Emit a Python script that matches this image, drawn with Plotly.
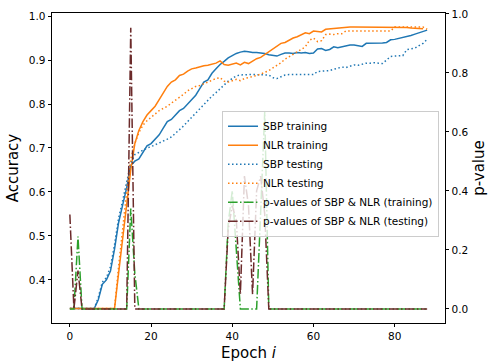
import plotly.graph_objects as go

epochs = list(range(89))

sbp_train = [0.335]*7 + [
    0.355, 0.39, 0.40, 0.42, 0.47, 0.53, 0.57, 0.61, 0.66, 0.67,
    0.675, 0.69, 0.705, 0.71, 0.72, 0.73, 0.745, 0.76, 0.765, 0.775,
    0.785, 0.79, 0.80, 0.81, 0.82, 0.835, 0.85, 0.855, 0.87, 0.88,
    0.89, 0.897, 0.905, 0.91, 0.915, 0.918, 0.92, 0.919, 0.917, 0.917,
    0.916, 0.915, 0.912, 0.91, 0.909, 0.913, 0.916, 0.916, 0.915, 0.917,
    0.916, 0.917, 0.915, 0.916, 0.925, 0.926, 0.922, 0.924, 0.93, 0.928,
    0.93, 0.932, 0.934, 0.934, 0.932, 0.931, 0.938, 0.938, 0.939, 0.939,
    0.939, 0.94, 0.946, 0.947, 0.949, 0.951, 0.953, 0.956, 0.959, 0.962,
    0.966, 0.968]

nlr_train = [0.335]*12 + [
    0.415, 0.49, 0.57, 0.65, 0.71, 0.74, 0.76, 0.775, 0.785, 0.795,
    0.81, 0.825, 0.84, 0.85, 0.855, 0.865, 0.868, 0.875, 0.88, 0.882,
    0.885, 0.887, 0.888, 0.89, 0.893, 0.898, 0.89, 0.888, 0.89, 0.893,
    0.889, 0.895, 0.892, 0.898, 0.903, 0.906, 0.912, 0.918, 0.926, 0.93,
    0.938, 0.94, 0.946, 0.95, 0.953, 0.958, 0.962, 0.96, 0.966, 0.965,
    0.964, 0.97, 0.971, 0.972, 0.973, 0.974, 0.975, 0.975, 0.975, 0.975,
    0.975, 0.975, 0.975, 0.975, 0.975, 0.975, 0.975, 0.975, 0.975, 0.975,
    0.975, 0.974, 0.973, 0.972, 0.972, 0.971]

sbp_test = [0.335]*7 + [
    0.36, 0.395, 0.405, 0.43, 0.48, 0.54, 0.58, 0.62, 0.665, 0.685,
    0.69, 0.695, 0.70, 0.703, 0.707, 0.711, 0.716, 0.72, 0.725, 0.733,
    0.742, 0.75, 0.76, 0.77, 0.78, 0.79, 0.80, 0.808, 0.818, 0.826,
    0.835, 0.845, 0.852, 0.858, 0.864, 0.866, 0.867, 0.867, 0.867, 0.867,
    0.867, 0.867, 0.866, 0.86, 0.858, 0.862, 0.866, 0.867, 0.867, 0.867,
    0.867, 0.867, 0.867, 0.867, 0.874, 0.875, 0.875, 0.876, 0.879, 0.881,
    0.884, 0.883, 0.886, 0.889, 0.888, 0.891, 0.893, 0.893, 0.894, 0.893,
    0.892, 0.90, 0.908, 0.909, 0.909, 0.91, 0.924, 0.925, 0.927, 0.933,
    0.938, 0.947]

nlr_test = [0.335]*12 + [
    0.43, 0.52, 0.60, 0.675, 0.71, 0.735, 0.752, 0.762, 0.77, 0.778,
    0.785, 0.79, 0.795, 0.802, 0.808, 0.816, 0.822, 0.83, 0.835, 0.84,
    0.842, 0.846, 0.85, 0.853, 0.858, 0.86, 0.852, 0.85, 0.853, 0.856,
    0.853, 0.858, 0.86, 0.862, 0.865, 0.868, 0.872, 0.876, 0.882, 0.888,
    0.894, 0.902, 0.908, 0.914, 0.92, 0.926, 0.93, 0.945, 0.95, 0.942,
    0.944, 0.958, 0.959, 0.958, 0.96, 0.96, 0.966, 0.966, 0.966, 0.966,
    0.966, 0.966, 0.966, 0.966, 0.966, 0.966, 0.966, 0.966, 0.975, 0.975,
    0.975, 0.975, 0.975, 0.975, 0.975, 0.975, 0.97]

p_train = [0.0, 0.0, 0.245, 0.0] + [0.0]*11 + [0.34, 0.12] + [0.0]*22 + [
    0.29, 0.40, 0.20, 0.0, 0.0, 0.0, 0.0, 0.0, 0.33, 0.67] + [0.0]*40

p_test = [0.32, 0.0, 0.13, 0.0] + [0.0]*11 + [0.953, 0.0] + [0.0]*22 + [
    0.27, 0.35, 0.30, 0.05, 0.45, 0.35, 0.05, 0.40, 0.45, 0.32] + [0.0]*40

FONT = "DejaVu Sans"
DOT = "1.5px,2.5px"
DASHDOT = "9.6px,2.4px,1.5px,2.4px"

fig = go.Figure()
series = [
    ("SBP training", sbp_train, "#1f77b4", "solid", "y"),
    ("NLR training", nlr_train, "#ff7f0e", "solid", "y"),
    ("SBP testing", sbp_test, "#1f77b4", DOT, "y"),
    ("NLR testing", nlr_test, "#ff7f0e", DOT, "y"),
    ("p-values of SBP & NLR (training)", p_train, "#2ca02c", DASHDOT, "y2"),
    ("p-values of SBP & NLR (testing)", p_test, "#6b2a2a", DASHDOT, "y2"),
]
for name, vals, col, dash, ax in series:
    fig.add_trace(go.Scatter(x=epochs, y=vals, name=name, mode="lines", yaxis=ax,
                             line=dict(color=col, width=1.5, dash=dash)))

axis_common = dict(showline=True, linecolor="black", linewidth=0.8, ticks="outside",
                   ticklen=3.5, tickwidth=0.8, tickcolor="black", showgrid=False,
                   zeroline=False, tickfont=dict(family=FONT, size=10.5, color="black"))

fig.update_layout(
    width=488, height=362,
    margin=dict(l=52, r=43, t=13, b=39, autoexpand=False),
    paper_bgcolor="white", plot_bgcolor="white",
    font=dict(family=FONT, color="black"),
    xaxis=dict(range=[-4.4, 92.4], tickvals=[0, 20, 40, 60, 80], mirror=True,
               title=dict(text="Epoch <i>i</i>", font=dict(family=FONT, size=15), standoff=6),
               **axis_common),
    yaxis=dict(range=[0.302, 1.007], tickvals=[0.4, 0.5, 0.6, 0.7, 0.8, 0.9, 1.0],
               tickformat=".1f", mirror=True,
               title=dict(text="Accuracy", font=dict(family=FONT, size=15), standoff=6),
               **axis_common),
    yaxis2=dict(range=[-0.0478, 1.0028], overlaying="y", side="right",
                tickvals=[0.0, 0.2, 0.4, 0.6, 0.8, 1.0], tickformat=".1f",
                title=dict(text="p-value", font=dict(family=FONT, size=15), standoff=6),
                **axis_common),
    legend=dict(x=0.4326, y=0.685, xanchor="left", yanchor="top",
                bgcolor="rgba(255,255,255,0.8)", bordercolor="#cccccc", borderwidth=1,
                font=dict(family=FONT, size=10.5, color="black"),
                itemwidth=30, tracegroupgap=0),
    showlegend=True,
)

fig.write_html("out.html")
